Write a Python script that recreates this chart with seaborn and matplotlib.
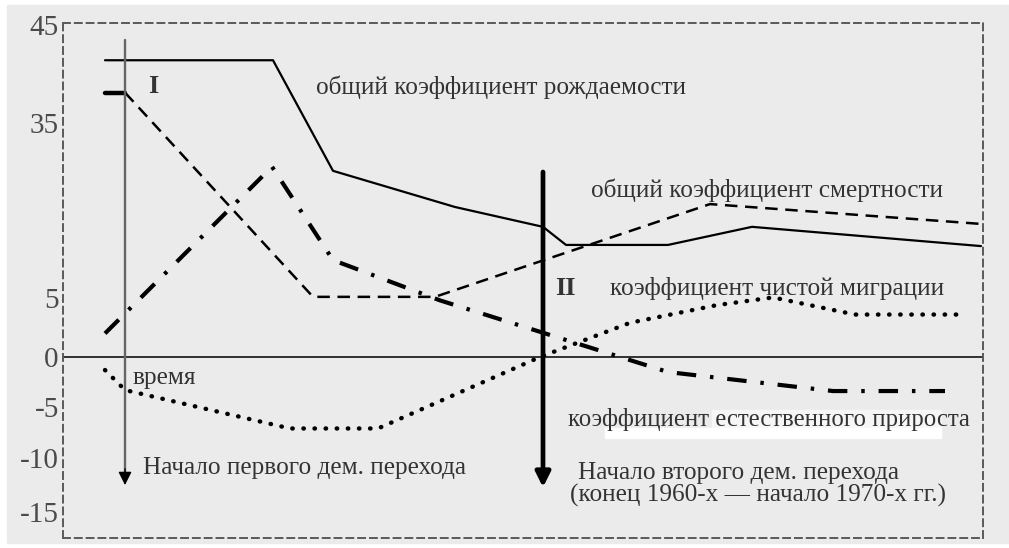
import numpy as np
import matplotlib
matplotlib.use("Agg")
import matplotlib.pyplot as plt
from matplotlib.patches import Rectangle
import seaborn as sns

# %%
# schematic time axis (no units)
t_birth = [105, 273, 333, 455, 543, 566, 668, 752, 981]
birth = [41.4, 41.4, 26.8, 20.6, 17.2, 14.1, 14.1, 17.2, 13.9]

t_death = [105, 125, 313, 435, 710, 981]
death = [38.1, 38.1, 5.2, 5.2, 21.1, 17.7]

t_natural = [105, 272, 333, 440, 668, 833, 945]
natural = [2.0, 27.5, 11.5, 4.8, -1.5, -3.4, -3.4]

t_migr = [105, 125, 290, 378, 540, 630, 717, 773, 855, 962]
migration = [-1.3, -3.3, -7.1, -7.1, 0.0, 2.9, 4.4, 5.1, 3.6, 3.6]

ytick_vals = [-15, -10, -5, 0, 5, 35, 45]
ytick_labels = ["-15", "-10", "-5", "0", "5", "35", "45"]

t_first, t_second = 125, 543

# %%
# the y axis in the original is not to proportion -> piecewise linear scale
scale_vals = np.array([-20, -15, -10, -5, 0, 5, 35, 45, 50])
scale_pos = np.array([566, 512, 458, 407, 357, 298, 123, 25, -24])


def fwd(v):
    return -np.interp(v, scale_vals, scale_pos)


def inv(p):
    return np.interp(p, -scale_pos, scale_vals)


sns.set_style("white")
plt.rcParams["font.family"] = ["Liberation Serif", "DejaVu Serif"]
plt.rcParams["lines.scale_dashes"] = False

fig = plt.figure(figsize=(10.09, 5.48), dpi=100)
fig.patch.set_facecolor("white")
fig.add_artist(Rectangle((7 / 1009, 5 / 548), 1002 / 1009, 538 / 548,
                         transform=fig.transFigure, color="#ebebeb", zorder=-10))
ax = fig.add_axes([63 / 1009, 1 - 538 / 548, 920 / 1009, 515 / 548])
ax.set_facecolor("none")
ax.set_yscale("function", functions=(fwd, inv))
ax.set_xlim(63, 983)
ax.set_ylim(-17.4, 45.2)

# %%
ax.axhline(0, color="black", lw=1.1, zorder=1)

sns.lineplot(x=t_birth, y=birth, ax=ax, color="black", lw=1.6)

sns.lineplot(x=t_death[:2], y=death[:2], ax=ax, color="black", lw=3.2)
sns.lineplot(x=t_death[1:], y=death[1:], ax=ax, color="black", lw=1.8,
             linestyle=(0, (9, 5.5)))

sns.lineplot(x=t_natural, y=natural, ax=ax, color="black", lw=3.0,
             linestyle=(0, (14, 10, 2.5, 10)))

sns.lineplot(x=t_migr, y=migration, ax=ax, color="black", lw=3.2,
             linestyle=(0, (0.3, 7.7)), dash_capstyle="round")

# arrows marking start of first / second transition
ax.plot([t_first, t_first], [43.5, -11.8], color="#666666", lw=1.7)
ax.annotate("", xy=(t_first, -12.5), xytext=(t_first, -11.0),
            arrowprops=dict(arrowstyle="-|>", color="black",
                            lw=1.0, mutation_scale=20, shrinkA=0, shrinkB=0))
ax.annotate("", xy=(t_second, -12.7), xytext=(t_second, 26.6),
            arrowprops=dict(arrowstyle="-|>", ec="black", fc="black",
                            lw=3.4, mutation_scale=22, shrinkA=0, shrinkB=0))

# white smudge under the last label, as in the scan
ax.add_patch(Rectangle((712, -7.8), 229, 2.5, color="#f6f6f6", zorder=0))
ax.add_patch(Rectangle((605, -8.0), 336, 0.9, color="white", zorder=0))

txt = dict(color="#333333", fontsize=18.2, va="center", ha="left")
ax.text(148, 38.7, "I", fontweight="bold", **{**txt, "fontsize": 19})
ax.text(555, 6.7, "II", fontweight="bold", **{**txt, "fontsize": 19})
ax.text(133, -2.1, "время", **txt)
ax.text(143, -10.9, "Начало первого дем. перехода", **txt)
ax.text(578, -11.4, "Начало второго дем. перехода", **txt)
ax.text(570, -13.5, "(конец 1960-х — начало 1970-х гг.)", **txt)
ax.text(316, 38.6, "общий коэффициент рождаемости", **txt)
ax.text(591, 23.5, "общий коэффициент смертности", **txt)
ax.text(610, 6.7, "коэффициент чистой миграции", **txt)
ax.text(568, -6.2, "коэффициент естественного прироста",
        **{**txt, "fontsize": 17.8})

ax.set_xticks([])
ax.set_yticks(ytick_vals)
ax.set_yticklabels(ytick_labels)
ax.tick_params(axis="y", length=0, pad=3, labelsize=21, labelcolor="#4a4a4a")
ax.set_xlabel("")
ax.set_ylabel("")

for s in ax.spines.values():
    s.set_visible(True)
    s.set_color("#5a5a5a")
    s.set_linewidth(1.4)
    s.set_linestyle((0, (5, 3.5)))

fig.savefig("out.png", dpi=100)
